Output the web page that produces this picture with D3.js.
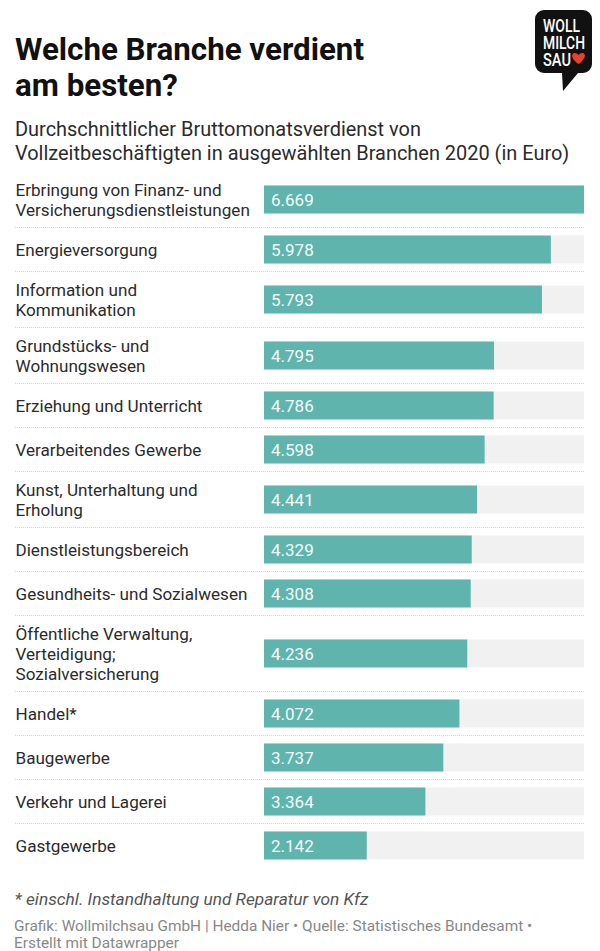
<!DOCTYPE html>
<html lang="de">
<head>
<meta charset="utf-8">
<title>Welche Branche verdient am besten?</title>
<script src="https://cdn.jsdelivr.net/npm/d3@7/dist/d3.min.js"></script>
<style>
  html, body { margin: 0; padding: 0; background: #fff; }
  svg { display: block; font-family: Roboto, sans-serif; }
</style>
</head>
<body>
<div id="chart"></div>
<script>
const titleLines = ['Welche Branche verdient', 'am besten?'];
const subtitleLines = [
  'Durchschnittlicher Bruttomonatsverdienst von',
  'Vollzeitbeschäftigten in ausgewählten Branchen 2020 (in Euro)'
];
const categories = [
  ['Erbringung von Finanz- und', 'Versicherungsdienstleistungen'],
  ['Energieversorgung'],
  ['Information und', 'Kommunikation'],
  ['Grundstücks- und', 'Wohnungswesen'],
  ['Erziehung und Unterricht'],
  ['Verarbeitendes Gewerbe'],
  ['Kunst, Unterhaltung und', 'Erholung'],
  ['Dienstleistungsbereich'],
  ['Gesundheits- und Sozialwesen'],
  ['Öffentliche Verwaltung,', 'Verteidigung;', 'Sozialversicherung'],
  ['Handel*'],
  ['Baugewerbe'],
  ['Verkehr und Lagerei'],
  ['Gastgewerbe']
];
const values = [6669, 5978, 5793, 4795, 4786, 4598, 4441, 4329, 4308, 4236, 4072, 3737, 3364, 2142];
const note = '* einschl. Instandhaltung und Reparatur von Kfz';
const creditLines = [
  'Grafik: Wollmilchsau GmbH | Hedda Nier • Quelle: Statistisches Bundesamt •',
  'Erstellt mit Datawrapper'
];
const logoLines = ['WOLL', 'MILCH', 'SAU'];
const logoWidths = [37, 42, 28];

const width = 600, height = 951;
const barHeight = 28, lineHeight = 20, rowPad = 16;
const rowsTop = 171.5;

const svg = d3.select('#chart').append('svg')
  .attr('width', width)
  .attr('height', height);

// title + subtitle
svg.append('g').selectAll('text').data(titleLines).join('text')
  .attr('x', 15)
  .attr('y', (d, i) => 60 + i * 36)
  .attr('font-size', 31.3)
  .attr('font-weight', 700)
  .attr('fill', '#111')
  .text(d => d);

svg.append('g').selectAll('text').data(subtitleLines).join('text')
  .attr('x', 15)
  .attr('y', (d, i) => 136 + i * 24)
  .attr('font-size', 19.95)
  .attr('fill', '#2b2b2b')
  .text(d => d);

// rows have different heights depending on the number of label lines
const rowHeights = categories.map(c => Math.max(barHeight, c.length * lineHeight) + rowPad);
const rowTops = [0, ...d3.cumsum(rowHeights)].map(d => d + rowsTop);

const x = d3.scaleLinear()
  .domain([0, d3.max(values)])
  .range([264, 584]);

const rows = svg.append('g').selectAll('g')
  .data(values.map((value, i) => ({value, label: categories[i], h: rowHeights[i], top: rowTops[i]})))
  .join('g')
  .attr('transform', d => `translate(0,${d.top})`);

rows.filter((d, i) => i > 0).append('line')
  .attr('x1', 15)
  .attr('x2', 584)
  .attr('y1', 0)
  .attr('y2', 0)
  .attr('stroke', '#d4d4d4')
  .attr('stroke-width', 1)
  .attr('stroke-dasharray', '1 1');

rows.append('rect')
  .attr('x', x(0))
  .attr('y', d => d.h / 2 - barHeight / 2)
  .attr('width', x.range()[1] - x(0))
  .attr('height', barHeight)
  .attr('fill', '#f1f1f1');

rows.append('rect')
  .attr('x', x(0))
  .attr('y', d => d.h / 2 - barHeight / 2)
  .attr('width', d => x(d.value) - x(0))
  .attr('height', barHeight)
  .attr('fill', '#5fb5ad');

rows.append('text')
  .attr('x', x(0) + 7)
  .attr('y', d => d.h / 2 + 6)
  .attr('font-size', 17)
  .attr('fill', '#f4fbfa')
  .text(d => d3.format(',')(d.value).replace(/,/g, '.'));

rows.each(function(d) {
  d3.select(this).selectAll('text.label').data(d.label).join('text')
    .attr('class', 'label')
    .attr('x', 15.5)
    .attr('y', (l, i) => d.h / 2 + (i - (d.label.length - 1) / 2) * lineHeight + 6)
    .attr('font-size', 17.1)
    .attr('fill', '#2b2b2b')
    .text(l => l);
});

// footer
svg.append('text')
  .attr('x', 14.5)
  .attr('y', 905)
  .attr('font-size', 17.3)
  .attr('font-style', 'italic')
  .attr('fill', '#555')
  .text(note);

svg.append('g').selectAll('text').data(creditLines).join('text')
  .attr('x', 14)
  .attr('y', (d, i) => 931 + i * 17)
  .attr('font-size', 15.4)
  .attr('fill', '#888')
  .text(d => d);

// logo
const logo = svg.append('g').attr('transform', 'translate(535,10)');
logo.append('path')
  .attr('d', 'M9,0H48a9,9 0 0 1 9,9V54a9,9 0 0 1 -9,9H43L28,81L27,63H9a9,9 0 0 1 -9,-9V9a9,9 0 0 1 9,-9Z')
  .attr('fill', '#111');
logo.selectAll('text').data(logoLines).join('text')
  .attr('x', 8)
  .attr('y', (d, i) => 22 + i * 17)
  .attr('font-size', 19)
  .attr('font-weight', 500)
  .attr('textLength', (d, i) => logoWidths[i])
  .attr('lengthAdjust', 'spacingAndGlyphs')
  .attr('fill', '#fff')
  .text(d => d);
logo.append('path')
  .attr('d', 'M43.5,54C36,49 36,44 39,43C41,42.5 43,44 43.5,45C44,44 46,42.5 48,43C51,44 51,49 43.5,54Z')
  .attr('fill', '#e8402a');
</script>
</body>
</html>
